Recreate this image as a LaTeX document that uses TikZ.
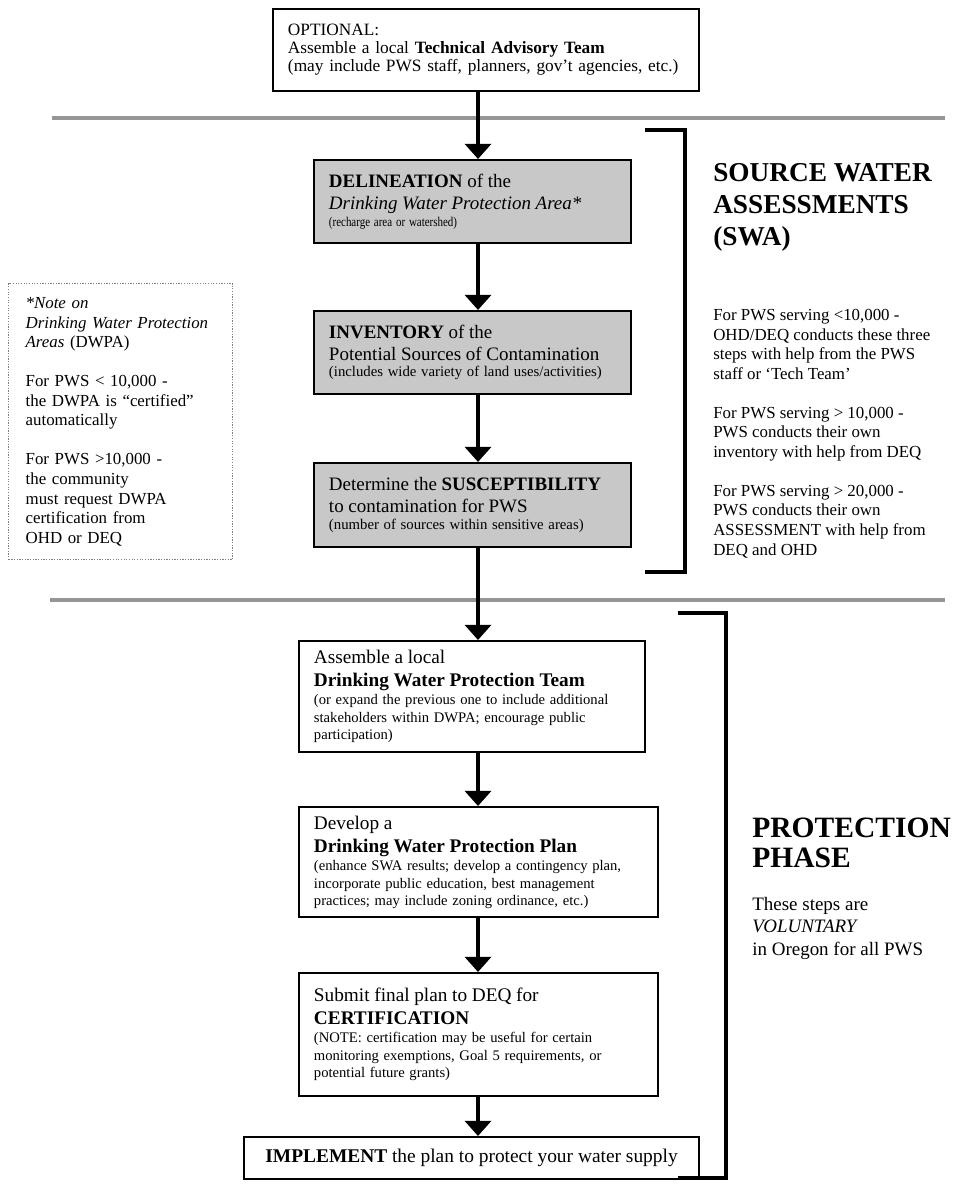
\documentclass[tikz,border=0pt]{standalone}
\usepackage{fontspec}
\setmainfont{Liberation Serif}
\usetikzlibrary{arrows.meta, positioning}
\definecolor{StepGray}{RGB}{200, 200, 200}
\definecolor{RuleGray}{RGB}{150, 150, 150}
\newcommand{\bigstep}{\fontsize{13.5}{15.6}\selectfont}
\newcommand{\smallstep}{\fontsize{10.5}{14.2}\selectfont}
\newcommand{\planbig}{\fontsize{13.7}{16.3}\selectfont}
\newcommand{\plansmall}{\fontsize{10.4}{12.8}\selectfont}
\newcommand{\sidefont}{\fontsize{12}{13.9}\selectfont}

\begin{document}
\begin{tikzpicture}[
    x=0.025cm, y=-0.025cm,
    every node/.style={inner sep=0pt, align=left},
    stepbox/.style={draw, line width=1.4pt, fill=white, anchor=north west,
                inner xsep=0.375cm, inner ysep=0pt},
    graystep/.style={stepbox, fill=StepGray},
    notebox/.style={draw=gray, densely dotted, line width=0.9pt, anchor=north west,
                inner xsep=0.425cm, inner ysep=0pt, font=\sidefont},
    flow/.style={line width=3.5pt, -{Triangle[width=0.65cm, length=0.38cm]}},
    divider/.style={RuleGray, line width=2.2pt},
    brace/.style={line width=2.2pt, line join=miter}
]
\useasboundingbox (0,0) rectangle (959,1190);
\coordinate (spine) at (478,0);

% optional team
\node[stepbox, minimum width=10.65cm, minimum height=2.05cm, text width=9.9cm,
      font=\fontsize{12.3}{12.8}\selectfont] (optional) at (272,8)
  {OPTIONAL:\\ Assemble a local \textbf{Technical Advisory Team}\\
   (may include PWS staff, planners, gov’t agencies, etc.)};

% assessment steps
\node[graystep, minimum width=7.925cm, minimum height=2.075cm, text width=7.175cm] (delin) at (313,159)
  {\bigstep\textbf{DELINEATION} of the\\ \textit{Drinking Water Protection Area*}\par
   \fontsize{9.5}{14.2}\selectfont \scalebox{0.82}[1]{(recharge area or watershed)}};
\node[graystep, minimum width=7.925cm, minimum height=2.075cm, text width=7.175cm] (inventory) at (313,310)
  {\bigstep\textbf{INVENTORY} of the\\ Potential Sources of Contamination\par
   \smallstep (includes wide variety of land uses/activities)};
\node[graystep, minimum width=7.925cm, minimum height=2.1cm, text width=7.175cm] (suscept) at (313,462)
  {\bigstep Determine the \textbf{SUSCEPTIBILITY}\\ to contamination for PWS\par
   \smallstep (number of sources within sensitive areas)};

% protection steps
\node[stepbox, minimum width=8.65cm, minimum height=2.775cm, text width=7.9cm] (team) at (298,640)
  {\planbig Assemble a local\\ \textbf{Drinking Water Protection Team}\par
   \plansmall (or expand the previous one to include additional\\
   stakeholders within DWPA; encourage public\\ participation)};
\node[stepbox, minimum width=8.975cm, minimum height=2.75cm, text width=8.225cm] (plan) at (298,806)
  {\planbig Develop a\\ \textbf{Drinking Water Protection Plan}\par
   \plansmall (enhance SWA results; develop a contingency plan,\\
   incorporate public education, best management\\
   practices; may include zoning ordinance, etc.)};
\node[stepbox, minimum width=8.975cm, minimum height=3.075cm, text width=8.225cm] (certify) at (298,972)
  {\planbig Submit final plan to DEQ for\\ \textbf{CERTIFICATION}\par
   \plansmall (NOTE: certification may be useful for certain\\
   monitoring exemptions, Goal 5 requirements, or\\ potential future grants)};
\node[stepbox, minimum width=11.375cm, minimum height=1.05cm, align=center,
      font=\fontsize{13.8}{15}\selectfont] (implement) at (243,1136)
  {\textbf{IMPLEMENT} the plan to protect your water supply};

% side note
\node[notebox, minimum width=5.6cm, minimum height=6.9cm, text width=4.75cm] (dwpanote) at (8,283)
  {\textit{*Note on}\\ \textit{Drinking Water Protection}\\ \textit{Areas} (DWPA)\\[13.9pt]
   For PWS < 10,000 -\\ the DWPA is “certified”\\ automatically\\[13.9pt]
   For PWS >10,000 -\\ the community\\ must request DWPA\\ certification from\\ OHD or DEQ};

% phase labels
\node[anchor=north west, font=\fontsize{19.4}{22.8}\selectfont\bfseries] (swatitle) at (713,163)
  {SOURCE WATER\\ ASSESSMENTS\\ (SWA)};
\node[anchor=north west, font=\sidefont] (swanotes) at (713,309)
  {For PWS serving <10,000 -\\ OHD/DEQ conducts these three\\ steps with help from the PWS\\
   staff or ‘Tech Team’\\[13.9pt]
   For PWS serving > 10,000 -\\ PWS conducts their own\\ inventory with help from DEQ\\[13.9pt]
   For PWS serving > 20,000 -\\ PWS conducts their own\\ ASSESSMENT with help from\\ DEQ and OHD};
\node[anchor=north west, font=\fontsize{21}{21.3}\selectfont\bfseries] (protitle) at (752,818)
  {PROTECTION\\ PHASE};
\node[anchor=north west, font=\fontsize{13.5}{16}\selectfont] (pronotes) at (752,897)
  {These steps are\\ \textit{VOLUNTARY}\\ in Oregon for all PWS};

% dividers and brackets
\draw[divider] (52,118) -- (945,118);
\draw[divider] (50,600) -- (945,600);
\draw[brace] (645,130) -| (685,572) -- (645,572);
\draw[brace] (678,613) -| (726,1178) -- (678,1178);

% arrows
\draw[flow] (optional.south -| spine) -- (delin.north -| spine);
\draw[flow] (delin.south -| spine) -- (inventory.north -| spine);
\draw[flow] (inventory.south -| spine) -- (suscept.north -| spine);
\draw[flow] (suscept.south -| spine) -- (team.north -| spine);
\draw[flow] (team.south -| spine) -- (plan.north -| spine);
\draw[flow] (plan.south -| spine) -- (certify.north -| spine);
\draw[flow] (certify.south -| spine) -- (implement.north -| spine);
\end{tikzpicture}
\end{document}
